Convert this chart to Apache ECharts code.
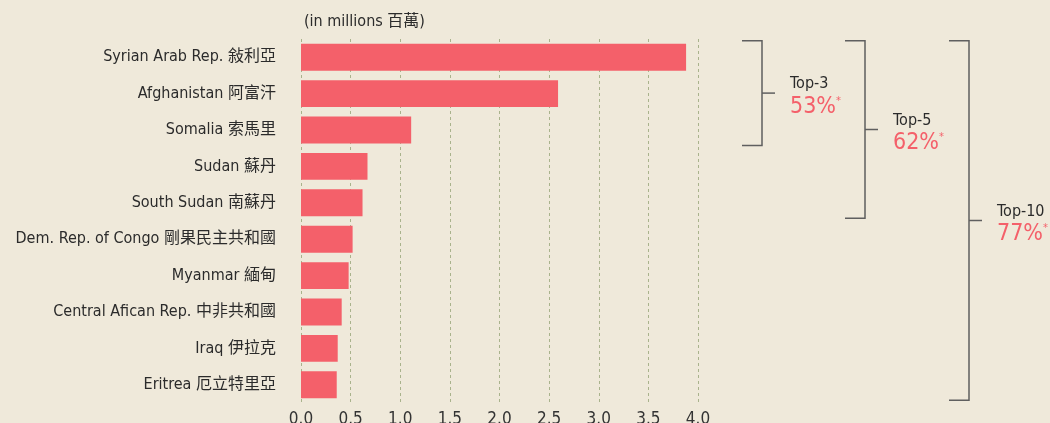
<!DOCTYPE html>
<html>
<head>
<meta charset="utf-8">
<script src="https://cdn.jsdelivr.net/npm/echarts@6/dist/echarts.min.js"></script>
<style>
  html, body { margin: 0; padding: 0; background: #efe9da; }
  #chart { width: 1050px; height: 423px; }
</style>
</head>
<body>
<div id="chart"></div>
<script>
const countryEn = ['Syrian Arab Rep.', 'Afghanistan', 'Somalia', 'Sudan', 'South Sudan',
  'Dem. Rep. of Congo', 'Myanmar', 'Central Afican Rep.', 'Iraq', 'Eritrea'];
const countryZh = ['敍利亞', '阿富汗', '索馬里', '蘇丹', '南蘇丹',
  '剛果民主共和國', '緬甸', '中非共和國', '伊拉克', '厄立特里亞'];
const refugees = [3.88, 2.59, 1.11, 0.67, 0.62, 0.52, 0.48, 0.41, 0.37, 0.36];

const topLabels = ['Top-3', 'Top-5', 'Top-10'];
const topCounts = [3, 5, 10];
const topShares = [53, 62, 77];

const font = '"Liberation Sans Narrow", "DejaVu Sans Condensed", "Noto Sans CJK TC", sans-serif';
const red = '#f4606a';
const ink = '#2b2b2b';

const chart = echarts.init(document.getElementById('chart'));

chart.setOption({
  backgroundColor: '#efe9da',
  animation: false,
  grid: { left: 301, right: 352, top: 39, bottom: 20, outerBoundsMode: 'none' },
  title: {
    text: '(in millions 百萬)',
    left: 299, top: 9,
    textStyle: { fontFamily: font, fontSize: 16, fontWeight: 'normal', color: ink }
  },
  xAxis: {
    type: 'value',
    min: 0, max: 4, interval: 0.5,
    axisLine: { show: false },
    axisTick: { show: false },
    axisLabel: {
      margin: 8,
      fontFamily: font, fontSize: 17, color: '#333',
      formatter: v => v.toFixed(1)
    },
    splitLine: { show: true, lineStyle: { color: '#a9b38c', width: 1, type: [3, 3] } }
  },
  yAxis: {
    type: 'category',
    inverse: true,
    data: countryEn.map((en, i) => en + ' ' + countryZh[i]),
    axisLine: { show: false },
    axisTick: { show: false },
    axisLabel: {
      margin: 25,
      padding: [5, 0, 0, 0],
      fontFamily: font, fontSize: 16, color: ink
    }
  },
  series: [{
    type: 'bar',
    data: refugees,
    barCategoryGap: '26%',
    itemStyle: { color: red },
    silent: true
  }]
});

// brackets for the cumulative shares, placed from the category positions
const c0 = chart.convertToPixel({ yAxisIndex: 0 }, 0);
const band = chart.convertToPixel({ yAxisIndex: 0 }, 1) - c0;
const barHalf = band * 0.37;
const bracketX = [762, 865, 969];
const graphics = [];
topCounts.forEach((n, k) => {
  const x = bracketX[k];
  const top = c0 - barHalf - 3;
  const bottom = chart.convertToPixel({ yAxisIndex: 0 }, n - 1) + barHalf + 2;
  const mid = (top + bottom) / 2;
  graphics.push({
    type: 'polyline',
    shape: { points: [[x - 20, top], [x, top], [x, bottom], [x - 20, bottom]] },
    style: { stroke: '#5f5f5f', lineWidth: 1.5, fill: null }
  });
  graphics.push({
    type: 'line',
    shape: { x1: x, y1: mid, x2: x + 13, y2: mid },
    style: { stroke: '#5f5f5f', lineWidth: 1.5 }
  });
  graphics.push({
    type: 'text',
    style: {
      text: topLabels[k], x: x + 28, y: mid - 9,
      font: '16px ' + font, fill: ink, verticalAlign: 'middle'
    }
  });
  graphics.push({
    type: 'text',
    style: {
      text: '{p|' + topShares[k] + '%}{s|*}', x: x + 28, y: mid + 14,
      verticalAlign: 'middle',
      rich: {
        p: { fontFamily: font, fontSize: 23, fill: red },
        s: { fontFamily: font, fontSize: 11, fill: red, verticalAlign: 'top' }
      }
    }
  });
});
chart.setOption({ graphic: graphics });
</script>
</body>
</html>
